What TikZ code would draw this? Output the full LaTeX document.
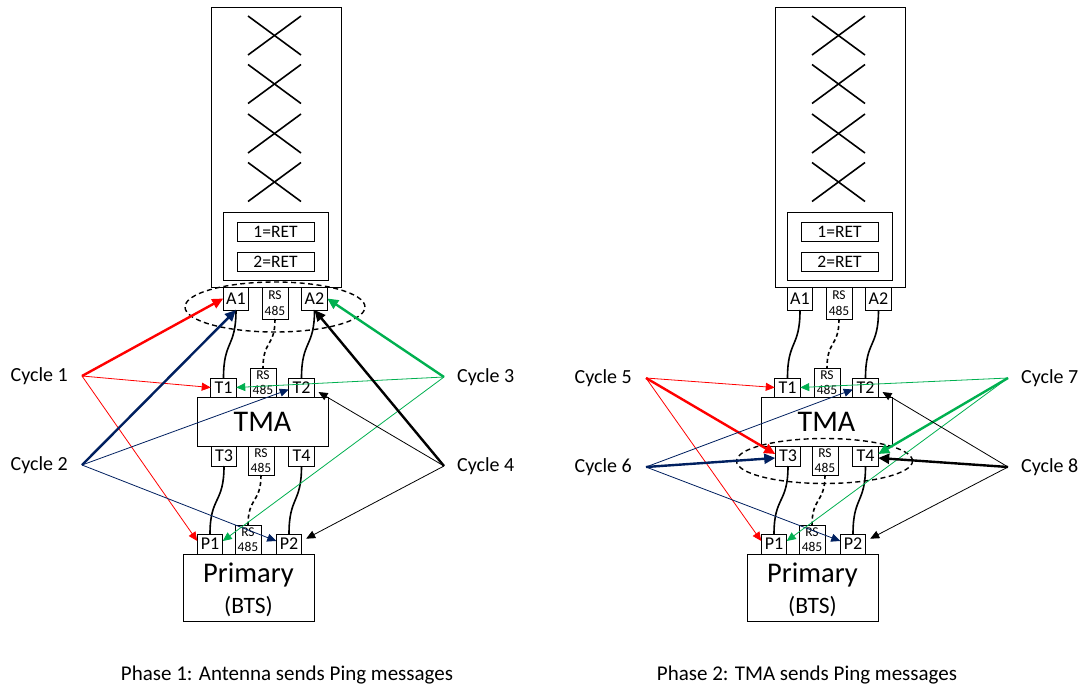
\documentclass[tikz,border=0pt]{standalone}
\usepackage{fontspec}
\setmainfont{Carlito}
\usetikzlibrary{arrows.meta,shapes.geometric}

\definecolor{pingred}{RGB}{255,0,0}
\definecolor{pingnavy}{RGB}{0,32,96}
\definecolor{pinggreen}{RGB}{0,176,80}

\tikzset{
  box/.style={draw, line width=0.9pt, fill=white, inner sep=0pt, outer sep=0pt},
  port/.style={box, minimum width=25.5pt, minimum height=20pt, font=\fontsize{18}{18}\selectfont},
  rsport/.style={box, minimum width=26pt, minimum height=29pt, align=center, font=\fontsize{13.5}{15.5}\selectfont},
  retbox/.style={box, minimum width=77pt, minimum height=19pt, font=\fontsize{17.5}{18}\selectfont},
  xline/.style={line width=1.6pt},
  cable/.style={line width=1.6pt},
  ctrlcable/.style={cable, dash pattern=on 4pt off 3pt},
  ring/.style={draw, ellipse, line width=1.4pt, dash pattern=on 5pt off 3.5pt, inner sep=0pt},
  thinping/.style={line width=0.8pt, -{Triangle[length=9pt,width=8pt]}},
  thickping/.style={line width=2.4pt, -{Triangle[length=11pt,width=10pt]}},
  cyc/.style={inner sep=0pt, font=\fontsize{20}{20}\selectfont},
  caption/.style={inner sep=0pt, font=\fontsize{21}{21}\selectfont},
}

% One site: antenna, TMA and base station with their ports and cables.
\newcommand\drawsite[1]{%
  \node[box, minimum width=130pt, minimum height=280pt] (#1ant) at (276,147) {};
  \foreach \cy in {35.5,84,133.5,182}{
    \draw[xline] (248,\cy-19.5) -- (301,\cy+19.5);
    \draw[xline] (248,\cy+19.5) -- (301,\cy-19.5);
  }
  \node[box, minimum width=105pt, minimum height=68pt] (#1ret) at (275.5,246) {};
  \node[retbox] (#1retone) at (275.5,231.5) {1=RET};
  \node[retbox] (#1rettwo) at (275.5,261.5) {2=RET};
  \node[port, minimum height=23pt] (#1A1) at (236,298.5) {A1};
  \node[rsport, minimum height=32pt] (#1RSa) at (275,303) {RS\\485};
  \node[port, minimum height=23pt] (#1A2) at (314.5,298.5) {A2};
  \node[box, minimum width=131pt, minimum height=49pt, font=\fontsize{30}{30}\selectfont] (#1tma) at (262.5,421.5) {TMA};
  \node[port, minimum height=19pt] (#1T1) at (223.5,387.5) {T1};
  \node[rsport] (#1RSb) at (263,382.5) {RS\\485};
  \node[port, minimum height=19pt] (#1T2) at (301.5,387.5) {T2};
  \node[port] (#1T3) at (224,456) {T3};
  \node[rsport] (#1RSc) at (261,460.5) {RS\\485};
  \node[port] (#1T4) at (301.5,456) {T4};
  \node[box, minimum width=131pt, minimum height=67pt] (#1bts) at (248.5,587.5) {};
  \node[inner sep=0pt, font=\fontsize{28.5}{28.5}\selectfont] (#1btsname) at (248.5,575) {Primary};
  \node[inner sep=0pt, font=\fontsize{23.5}{23.5}\selectfont] (#1btstype) at (248.5,607) {(BTS)};
  \node[port] (#1P1) at (210,544) {P1};
  \node[rsport] (#1RSd) at (248,539.5) {RS\\485};
  \node[port] (#1P2) at (289,544) {P2};
  % feeders (solid) and RS485 control line (dashed)
  \draw[cable] (#1A1.south) .. controls +(0,38) and +(0,-38) .. (#1T1.north);
  \draw[ctrlcable] (#1RSa.south) .. controls +(0,28) and +(0,-28) .. (#1RSb.north);
  \draw[cable] (#1A2.south) .. controls +(0,38) and +(0,-38) .. (#1T2.north);
  \draw[cable] (#1T3.south) .. controls +(0,38) and +(0,-38) .. (#1P1.north);
  \draw[ctrlcable] (#1RSc.south) .. controls +(0,28) and +(0,-28) .. (#1RSd.north);
  \draw[cable] (#1T4.south) .. controls +(0,38) and +(0,-38) .. (#1P2.north);
}

\begin{document}
\begin{tikzpicture}[x=1pt, y=-1pt]
  \useasboundingbox[fill=white] (0,0) rectangle (1083,687);

  \drawsite{L}
  \begin{scope}[xshift=564pt]
    \drawsite{R}
  \end{scope}

  % ---------- Phase 1: pings sent from the antenna ports ----------
  \node[ring, minimum width=180pt, minimum height=50pt] (Lsel) at (275,307) {};

  \coordinate (c1) at (82,376);
  \coordinate (c2) at (82,465);
  \coordinate (c3) at (444,377);
  \coordinate (c4) at (444,466);
  \node[cyc, anchor=east] (lab1) at (68,376) {Cycle 1};
  \node[cyc, anchor=east] (lab2) at (68,465) {Cycle 2};
  \node[cyc, anchor=west] (lab3) at (457,377) {Cycle 3};
  \node[cyc, anchor=west] (lab4) at (457,466) {Cycle 4};

  \draw[thickping, pingred] (c1) -- (LA1.west);
  \draw[thinping, pingred] (c1) -- (LT1.west);
  \draw[thinping, pingred] (c1) -- ([yshift=3pt]LP1.west);

  \draw[thickping, pingnavy] (c2) -- (LA1.south);
  \draw[thinping, pingnavy] (c2) -- ([yshift=-2pt]LT2.west);
  \draw[thinping, pingnavy] (c2) -- ([yshift=3pt]LP2.west);

  \draw[thickping, pinggreen] (c3) -- (LA2.east);
  \draw[thinping, pinggreen] (c3) -- (LT1.east);
  \draw[thinping, pinggreen] (c3) -- ([yshift=3pt]LP1.east);

  \draw[thickping] (c4) -- (LA2.south);
  \draw[thinping, shorten >=5pt] (c4) -- ([yshift=-2pt]LT2.east);
  \draw[thinping, shorten >=5pt] (c4) -- ([yshift=3pt]LP2.east);

  % ---------- Phase 2: pings sent from the TMA ports ----------
  \node[ring, minimum width=176pt, minimum height=45pt] (Rsel) at (824.5,461) {};

  \coordinate (c5) at (646,378);
  \coordinate (c6) at (646,467);
  \coordinate (c7) at (1008,378);
  \coordinate (c8) at (1008,467);
  \node[cyc, anchor=east] (lab5) at (632,378) {Cycle 5};
  \node[cyc, anchor=east] (lab6) at (632,467) {Cycle 6};
  \node[cyc, anchor=west] (lab7) at (1021,378) {Cycle 7};
  \node[cyc, anchor=west] (lab8) at (1021,467) {Cycle 8};

  \draw[thinping, pingred] (c5) -- (RT1.west);
  \draw[thickping, pingred] (c5) -- ([yshift=2pt]RT3.west);
  \draw[thinping, pingred] (c5) -- ([yshift=3pt]RP1.west);

  \draw[thinping, pingnavy] (c6) -- ([yshift=-2pt]RT2.west);
  \draw[thickping, pingnavy] (c6) -- ([yshift=-2pt]RT3.west);
  \draw[thinping, pingnavy] (c6) -- ([yshift=3pt]RP2.west);

  \draw[thinping, pinggreen] (c7) -- (RT1.east);
  \draw[thickping, pinggreen] (c7) -- ([yshift=2pt]RT4.east);
  \draw[thinping, pinggreen] (c7) -- ([yshift=3pt]RP1.east);

  \draw[thinping, shorten >=5pt] (c8) -- ([yshift=-2pt]RT2.east);
  \draw[thickping] (c8) -- ([yshift=-2pt]RT4.east);
  \draw[thinping, shorten >=5pt] (c8) -- ([yshift=3pt]RP2.east);

  \node[caption] (cap1) at (287,675) {Phase 1: Antenna sends Ping messages};
  \node[caption] (cap2) at (807,675) {Phase 2: TMA sends Ping messages};
\end{tikzpicture}
\end{document}
